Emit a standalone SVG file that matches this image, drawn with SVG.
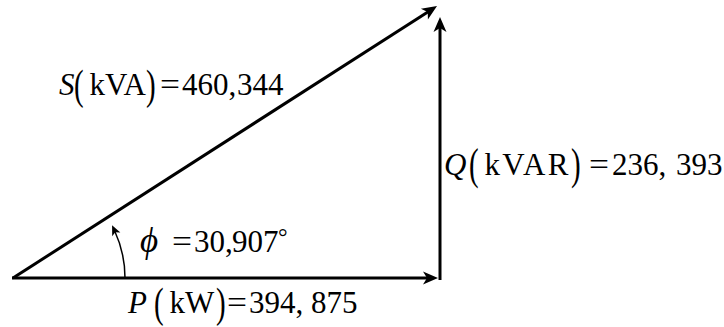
<svg xmlns="http://www.w3.org/2000/svg" width="724" height="327" viewBox="0 0 724 327">
<style>
.t{font-family:"Liberation Serif","Times New Roman",serif;font-size:31px;fill:#000}
.i{font-style:italic}
.p{font-family:"Liberation Serif","Times New Roman",serif;font-size:29px;fill:#000}
.v{fill:none;stroke:#000;stroke-width:3}
.a{fill:none;stroke:#000;stroke-width:1.5}
</style>
<defs>
<marker id="ah" markerUnits="userSpaceOnUse" viewBox="-6 -7 17 14" refX="0" refY="0" markerWidth="17" markerHeight="14" orient="auto">
<path d="M10,0 L-5,-6.5 L-1,0 L-5,6.5 Z" fill="#000"/>
</marker>
<marker id="ahs" markerUnits="userSpaceOnUse" viewBox="-5 -5 12 10" refX="0" refY="0" markerWidth="12" markerHeight="10" orient="auto">
<path d="M6,0 L-4,-4.5 L-1.5,0 L-4,4.5 Z" fill="#000"/>
</marker>
</defs>
<g id="connectors">
<line class="v" x1="12" y1="278" x2="428" y2="278" marker-end="url(#ah)"/>
<line class="v" x1="440" y1="280" x2="440" y2="27" marker-end="url(#ah)"/>
<line class="v" x1="13" y1="278" x2="428.6" y2="11.4" marker-end="url(#ah)"/>
<path class="a" d="M125,278 A112,112 0 0 0 114.6,230.8" marker-end="url(#ahs)"/>
</g>
<g id="label-S">
<text class="t i" x="59" y="95">S</text>
<text class="p" transform="translate(0,88.5) scale(1,1.48)" x="74" y="7.25">(</text>
<text class="t" x="89.5" y="95">kVA</text>
<text class="p" transform="translate(0,88.5) scale(1,1.48)" x="146" y="7.25">)</text>
<text class="t" x="160" y="95" textLength="20" lengthAdjust="spacingAndGlyphs">=</text>
<text class="t" x="182" y="95">460,</text>
<text class="t" x="237" y="95">344</text>
</g>
<g id="label-Q">
<text class="t i" x="444" y="175">Q</text>
<text class="p" transform="translate(0,167.5) scale(1,1.55)" x="469" y="7.25">(</text>
<text class="t" x="484.5" y="175" textLength="84">kVAR</text>
<text class="p" transform="translate(0,167.5) scale(1,1.55)" x="571" y="7.25">)</text>
<text class="t" x="589" y="175" textLength="20" lengthAdjust="spacingAndGlyphs">=</text>
<text class="t" x="612" y="175">236,</text>
<text class="t" x="676" y="175">393</text>
</g>
<g id="label-P">
<text class="t i" x="128" y="313">P</text>
<text class="p" transform="translate(0,306.5) scale(1,1.48)" x="154" y="7.25">(</text>
<text class="t" x="169.5" y="313">kW</text>
<text class="p" transform="translate(0,306.5) scale(1,1.48)" x="216" y="7.25">)</text>
<text class="t" x="227" y="313" textLength="20" lengthAdjust="spacingAndGlyphs">=</text>
<text class="t" x="249" y="313">394,</text>
<text class="t" x="311" y="313">875</text>
</g>
<g id="label-phi">
<text class="t i" x="140" y="252" style="font-size:35px">ϕ</text>
<text class="t" x="172" y="252" textLength="20" lengthAdjust="spacingAndGlyphs">=</text>
<text class="t" x="194" y="252">30,</text>
<text class="t" x="232" y="252">907</text>
<text class="t" x="278" y="245" style="font-size:24px">°</text>
</g>
</svg>
